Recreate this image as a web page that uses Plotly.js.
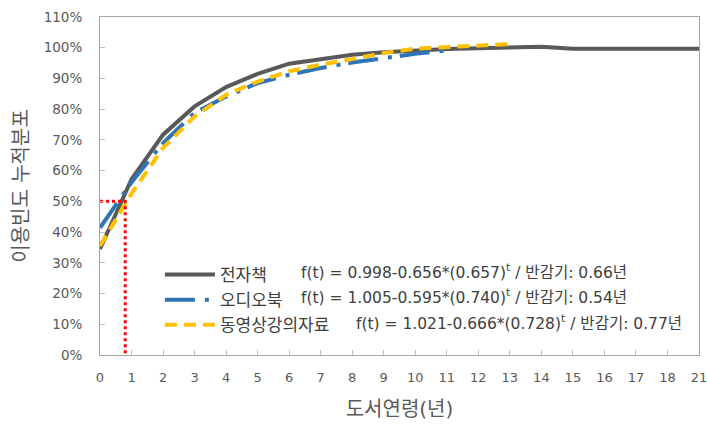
<!DOCTYPE html>
<html>
<head>
<meta charset="utf-8">
<script src="https://cdn.plot.ly/plotly-3.0.1.min.js"></script>
<style>html,body{margin:0;padding:0;background:#fff;}#chart{width:707px;height:425px;}</style>
</head>
<body>
<div id="chart"></div>
<script>
// Category labels of the x axis (book age in years)
const ageLabels = ["0","1","2","3","4","5","6","7","8","9","10","11","12","13","14","15","16","17","18","21"];
// Cumulative usage share
const ebook = [0.345,0.572,0.717,0.809,0.872,0.915,0.948,0.963,0.977,0.985,0.991,0.996,0.998,0.999,1.003,0.997,0.997,0.997,0.997,0.997];
const audiobook = [0.414,0.562,0.690,0.788,0.841,0.885,0.912,0.934,0.952,0.967,0.980,0.991];
const videoLecture = [0.355,0.525,0.674,0.776,0.847,0.890,0.923,0.945,0.963,0.983,0.997,1.002,1.007,1.012];
const seriesNames = ["전자책","오디오북","동영상강의자료"];
const formulas = [
  "f(t) = 0.998-0.656*(0.657)<sup>t</sup> / 반감기: 0.66년",
  "f(t) = 1.005-0.595*(0.740)<sup>t</sup> / 반감기: 0.54년",
  "f(t) = 1.021-0.666*(0.728)<sup>t</sup> / 반감기: 0.77년"
];
// Half-life guide (position, in category units) and 50% level
const guideX = 0.8;
const guideY = 0.5;

const idx = arr => arr.map((_, i) => i);
const FONT = '"DejaVu Sans", "Noto Sans CJK KR", sans-serif';

const traces = [
  {x: idx(ebook), y: ebook, name: seriesNames[0], mode: 'lines',
   line: {color: '#595959', width: 4}},
  {x: idx(audiobook), y: audiobook, name: seriesNames[1], mode: 'lines',
   line: {color: '#2E75B6', width: 4, dash: '30px,10px,4px,8px'}},
  {x: idx(videoLecture), y: videoLecture, name: seriesNames[2], mode: 'lines',
   line: {color: '#FFC000', width: 4, dash: '12px,7px'}},
  {x: [0, guideX, guideX], y: [guideY, guideY, 0], mode: 'lines', showlegend: false,
   line: {color: '#FF0000', width: 3, dash: '3px,3px'}, hoverinfo: 'skip'}
];

const rowsY = [0.2456, 0.1716, 0.0947];
const rowsX = [0.333, 0.333, 0.424];
const annotations = formulas.map((t, i) => ({
  text: t, xref: 'paper', yref: 'paper', x: rowsX[i], y: rowsY[i],
  xanchor: 'left', yanchor: 'middle', showarrow: false,
  font: {family: FONT, size: 15.5, color: '#404040'}
}));

const layout = {
  width: 707, height: 425,
  margin: {l: 100, r: 8, t: 17, b: 70},
  paper_bgcolor: '#fff', plot_bgcolor: '#fff',
  font: {family: FONT, color: '#595959'},
  showlegend: true,
  legend: {x: 0.1, y: 0.29, xanchor: 'left', yanchor: 'top', bgcolor: 'rgba(0,0,0,0)',
           font: {family: FONT, size: 17, color: '#404040'}, itemwidth: 50, tracegroupgap: 0},
  xaxis: {
    range: [0, 19], tickmode: 'array', tickvals: idx(ageLabels), ticktext: ageLabels,
    showgrid: false, zeroline: false, showline: true, linecolor: '#a6a6a6', linewidth: 1, mirror: true,
    ticks: 'inside', ticklen: 5, tickcolor: '#bfbfbf', ticklabeloverflow: 'allow',
    tickfont: {family: FONT, size: 13, color: '#595959'}, ticklabelstandoff: 10,
    title: {text: '도서연령(년)', font: {family: FONT, size: 20, color: '#595959'}, standoff: 18}
  },
  yaxis: {
    range: [0, 1.1], dtick: 0.1, tickformat: '.0%',
    showgrid: false, zeroline: false, showline: true, linecolor: '#a6a6a6', linewidth: 1, mirror: true,
    ticks: 'inside', ticklen: 5, tickcolor: '#bfbfbf',
    tickfont: {family: FONT, size: 13.5, color: '#595959'}, ticklabelstandoff: 14,
    title: {text: '이용빈도 누적분포', font: {family: FONT, size: 20, color: '#595959'}, standoff: 9}
  },
  annotations: annotations
};

Plotly.newPlot('chart', traces, layout, {displayModeBar: false, staticPlot: true});
</script>
</body>
</html>
